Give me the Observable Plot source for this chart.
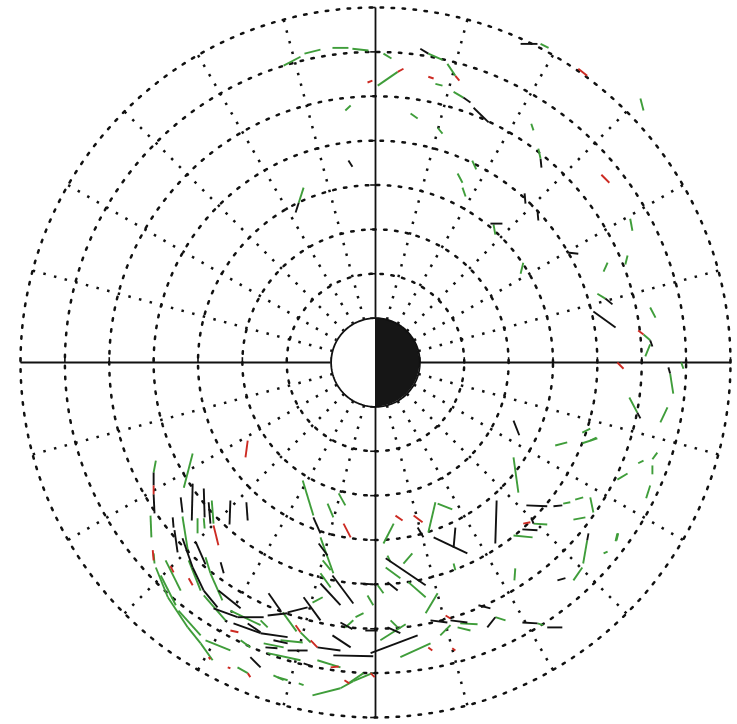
<!DOCTYPE html>
<html>
<head>
<meta charset="utf-8">
<script src="https://cdn.jsdelivr.net/npm/d3@7"></script>
<script src="https://cdn.jsdelivr.net/npm/@observablehq/plot@0.6"></script>
<style>
  body { margin: 0; background: #fff; }
  #chart svg { display: block; }
</style>
</head>
<body>
<div id="chart"></div>
<script>
// Equatorial plane view, distances in Earth radii (Re); Earth at the centre,
// sunlit half on the left, night half shaded on the right.

// Dotted L-shells and local-time spokes (degrees, every hour = 15 deg)
const ringRadii = [2, 3, 4, 5, 6, 7, 8];
const spokeAngles = [15, 30, 45, 60, 75, 105, 120, 135, 150, 165, 195, 210, 225, 240, 255, 285, 300, 315, 330, 345];
const axisTicks = [-8, -7, -6, -5, -4, -3, -2, -1, 1, 2, 3, 4, 5, 6, 7, 8];
const outerRadius = 8;

// Observed event directions along the orbits: [x1, y1, x2, y2] in Re
const blackSegments = [
  [1.01, 7.07, 1.19, 6.96], [1.98, 5.97, 2.14, 5.86], [2.21, 5.74, 2.55, 5.41], [3.27, 7.18, 3.65, 7.18],
  [3.72, 4.59, 3.74, 4.39], [-1.73, 3.60, -1.80, 3.38], [-0.61, 4.55, -0.52, 4.41], [3.36, 3.81, 3.38, 3.58],
  [3.65, 3.42, 3.67, 3.20], [2.59, 3.13, 2.86, 3.13], [4.32, 2.48, 4.57, 2.45], [5.18, 1.44, 5.34, 1.31],
  [4.91, 1.15, 5.41, 0.79], [6.19, 0.50, 6.24, 0.36], [6.60, -0.11, 6.64, -0.25], [5.90, -1.13, 5.97, -1.26],
  [3.11, -1.31, 3.24, -1.64], [3.40, -3.22, 3.87, -3.24], [4.01, -3.24, 4.21, -3.22], [3.51, -3.49, 3.56, -3.63],
  [3.31, -3.76, 3.65, -3.78], [2.73, -3.11, 2.70, -4.08], [1.80, -3.72, 1.76, -4.17], [1.31, -3.94, 2.07, -4.30],
  [0.95, -3.72, 1.08, -3.94], [0.23, -4.41, 1.13, -5.02], [0.27, -4.95, 0.50, -5.14], [4.80, -3.85, 4.77, -4.01],
  [4.10, -4.91, 4.28, -4.86], [2.32, -5.47, 2.59, -5.54], [2.70, -5.74, 2.52, -5.97], [3.31, -5.86, 3.65, -5.88],
  [3.87, -5.97, 4.21, -5.97], [1.24, -5.81, 1.62, -5.86], [1.69, -5.81, 2.07, -5.86], [0.27, -5.97, 0.56, -6.10],
  [-0.11, -6.55, 0.95, -6.15],
  [-5.00, -2.48, -5.00, -2.77], [-5.00, -2.97, -4.98, -3.40], [-4.12, -2.73, -4.14, -3.56], [-4.39, -3.04, -4.35, -3.38],
  [-3.87, -2.84, -3.85, -3.49], [-3.76, -3.15, -3.72, -3.63], [-3.27, -3.11, -3.29, -3.65], [-2.91, -3.15, -2.88, -3.56],
  [-4.57, -3.49, -4.55, -3.72], [-4.53, -3.78, -4.46, -4.28], [-4.35, -3.96, -4.12, -4.62], [-4.12, -4.62, -3.87, -5.14],
  [-3.87, -5.14, -3.56, -5.52], [-3.49, -4.50, -3.42, -4.75], [-3.65, -5.54, -3.11, -5.74], [-3.11, -5.74, -2.52, -5.74],
  [-2.43, -5.70, -1.98, -5.65], [-1.98, -5.63, -1.53, -5.52], [-3.20, -5.88, -2.59, -6.10], [-2.59, -6.10, -1.98, -6.19],
  [-0.95, -6.60, -0.05, -6.62], [-1.40, -3.49, -1.24, -3.85], [-1.28, -4.08, -1.08, -4.35], [-1.24, -4.98, -0.79, -5.47],
  [-0.97, -4.80, -0.50, -5.43], [-0.34, -4.98, -0.05, -5.00], [-1.62, -5.29, -1.24, -5.81], [-2.41, -5.20, -2.14, -5.59],
  [-2.88, -5.88, -2.59, -6.08], [-0.79, -5.86, -0.52, -6.01], [-0.23, -6.04, 0.05, -6.04], [-0.97, -6.15, -0.56, -6.42],
  [-1.31, -6.42, -0.79, -6.49], [-2.48, -6.42, -2.21, -6.44], [-1.98, -6.49, -1.53, -6.49], [-2.82, -6.64, -2.59, -6.87],
  [-1.62, -6.78, -1.42, -6.85], [-3.54, -5.14, -3.04, -5.54], [-4.05, -4.05, -3.83, -4.55], [-2.30, -6.26, -1.98, -6.33]
];

const greenSegments = [
  [-2.07, 6.69, -1.69, 6.89], [-1.60, 6.96, -1.24, 7.05], [-0.97, 7.09, -0.61, 7.09], [-0.52, 7.07, -0.16, 7.03],
  [0.18, 6.96, 0.36, 6.85], [0.05, 6.24, 0.50, 6.55], [1.19, 6.96, 1.51, 6.82], [1.35, 6.28, 1.51, 6.24],
  [1.62, 6.73, 1.80, 6.46], [1.76, 6.10, 1.98, 5.97], [0.79, 5.61, 0.95, 5.50], [1.40, 5.29, 1.51, 5.16],
  [3.72, 7.18, 3.90, 7.09], [5.97, 5.95, 6.04, 5.68], [3.51, 5.38, 3.56, 5.23], [3.67, 4.82, 3.72, 4.59],
  [2.18, 4.55, 2.27, 4.35], [1.85, 4.26, 1.96, 4.05], [1.96, 3.94, 2.03, 3.74], [-1.62, 3.94, -1.73, 3.60],
  [-0.68, 5.68, -0.56, 5.79], [2.66, 3.11, 2.70, 2.88], [3.33, 2.25, 3.27, 2.00], [5.74, 3.24, 5.79, 2.97],
  [5.23, 2.25, 5.14, 2.05], [5.68, 2.41, 5.63, 2.21], [5.00, 1.55, 5.18, 1.44], [6.19, 1.24, 6.31, 1.01],
  [6.04, 0.63, 6.19, 0.50], [6.19, 0.41, 6.08, 0.14], [6.64, -0.25, 6.71, -0.70], [6.89, 0.00, 6.94, -0.14],
  [5.72, -0.79, 5.90, -1.13], [6.58, -1.01, 6.42, -1.35], [4.84, -1.76, 4.98, -1.69], [6.35, -2.03, 6.24, -2.18],
  [6.04, -2.21, 5.92, -2.27], [5.68, -2.50, 5.45, -2.64], [6.24, -2.32, 6.24, -2.52], [6.19, -2.77, 6.10, -3.06],
  [4.84, -3.04, 4.91, -3.38], [5.47, -3.85, 5.43, -4.01], [4.66, -1.58, 4.84, -1.49], [4.05, -1.87, 4.32, -1.80],
  [4.66, -1.82, 5.00, -1.71], [3.11, -2.14, 3.22, -2.93], [4.23, -3.18, 4.39, -3.15], [4.50, -3.09, 4.68, -3.04],
  [4.46, -3.54, 4.73, -3.49], [3.56, -3.63, 3.87, -3.65], [3.11, -3.90, 3.54, -3.94], [1.40, -3.18, 1.73, -3.31],
  [1.35, -3.15, 1.19, -3.83], [0.41, -3.63, 0.18, -4.08], [0.83, -4.30, 0.63, -4.53], [0.23, -4.62, 0.56, -4.86],
  [0.74, -4.95, 1.13, -5.29], [0.05, -5.02, 0.18, -5.20], [4.77, -4.01, 4.68, -4.53], [4.66, -4.62, 4.46, -4.91],
  [5.45, -3.85, 5.41, -4.03], [5.14, -4.30, 5.23, -4.26], [3.15, -4.64, 3.13, -4.91], [1.76, -4.53, 1.80, -4.68],
  [1.40, -5.20, 1.13, -5.65], [2.70, -5.74, 2.93, -5.81], [3.65, -5.88, 3.78, -5.92], [1.91, -5.88, 2.30, -5.90],
  [1.46, -6.15, 1.69, -5.92], [1.85, -5.97, 2.14, -6.04], [0.34, -5.81, 0.50, -5.97], [0.56, -6.64, 1.24, -6.33],
  [0.11, -6.26, 0.68, -5.90],
  [-4.95, -2.21, -5.00, -2.48], [-5.07, -3.45, -5.05, -3.94], [-4.12, -2.05, -4.32, -2.82], [-4.35, -3.47, -4.23, -4.23],
  [-3.87, -3.51, -3.85, -3.74], [-3.69, -3.11, -3.65, -3.63], [-4.01, -3.51, -4.01, -3.85], [-5.00, -4.30, -4.98, -4.53],
  [-4.95, -4.62, -4.68, -5.29], [-4.68, -5.29, -4.23, -5.97], [-4.23, -5.97, -3.94, -6.33], [-3.94, -6.33, -3.67, -6.71],
  [-4.73, -4.46, -4.39, -5.14], [-3.83, -4.39, -3.72, -4.75], [-3.72, -4.75, -3.45, -5.36], [-3.11, -6.87, -2.88, -7.00],
  [-2.43, -6.55, -1.69, -6.71], [-2.21, -7.09, -1.98, -7.16], [-1.42, -7.50, -0.79, -7.34], [-0.79, -7.34, -0.50, -7.18],
  [-0.50, -7.18, -0.07, -7.00], [-1.64, -2.66, -1.40, -3.45], [-1.24, -3.94, -0.95, -4.75], [-0.83, -2.95, -0.68, -3.22],
  [-1.08, -3.18, -0.95, -3.49], [-1.19, -4.46, -1.01, -4.68], [-1.24, -4.75, -1.01, -5.07], [0.27, -4.35, 0.34, -4.50],
  [-0.18, -5.25, -0.05, -5.47], [-1.42, -5.41, -1.19, -5.29], [-2.59, -5.81, -2.43, -5.97], [-0.68, -5.97, -0.50, -5.81],
  [-0.45, -5.74, -0.27, -5.65], [-2.09, -5.63, -1.78, -6.06], [-1.69, -6.08, -1.46, -6.31], [-2.14, -6.26, -1.64, -6.31],
  [-3.04, -6.26, -2.82, -6.42], [-1.31, -6.71, -0.79, -6.87], [-0.61, -7.23, -0.27, -7.00], [-2.30, -7.05, -2.07, -7.16],
  [-1.73, -7.23, -1.62, -7.27], [-4.84, -4.80, -4.50, -5.47], [-4.44, -5.59, -3.94, -6.15], [-3.83, -6.26, -3.27, -6.49],
  [-3.27, -5.59, -2.59, -5.92], [-4.21, -4.46, -3.94, -5.14], [-3.87, -5.25, -3.38, -5.81], [-2.52, -6.33, -2.07, -6.42]
];

const redSegments = [
  [0.50, 6.55, 0.63, 6.62], [-0.18, 6.31, -0.07, 6.35], [1.19, 6.44, 1.31, 6.40], [1.80, 6.46, 1.89, 6.35],
  [4.57, 6.62, 4.77, 6.46], [5.09, 4.23, 5.27, 4.05], [5.92, 0.72, 6.04, 0.63], [5.45, 0.00, 5.59, -0.14],
  [3.33, -3.63, 3.49, -3.60], [0.45, -3.45, 0.61, -3.56], [0.86, -3.45, 1.06, -3.60], [1.58, -5.70, 1.69, -5.77],
  [1.19, -6.42, 1.28, -6.49], [1.73, -6.44, 1.80, -6.49], [-0.11, -7.00, -0.02, -7.09], [-2.88, -1.76, -2.93, -2.14],
  [-5.00, -2.77, -5.00, -2.97], [-3.65, -3.67, -3.54, -4.12], [-5.02, -4.23, -5.00, -4.46], [-4.62, -4.59, -4.55, -4.73],
  [-4.21, -4.86, -4.12, -5.02], [-3.27, -6.04, -3.09, -6.08], [-3.33, -6.87, -3.27, -6.89], [-2.88, -7.00, -2.82, -7.09],
  [-3.76, -6.64, -3.72, -6.69], [-1.80, -5.92, -1.69, -6.08], [-1.46, -6.26, -1.31, -6.42], [-1.01, -6.87, -0.83, -6.85],
  [-0.70, -7.16, -0.59, -7.23], [-0.72, -3.63, -0.56, -3.94]
];

const ink = "#111";
const green = "#3f9d3a";
const red = "#cc2a22";

// Grid geometry
const rad = Math.PI / 180;
const ringPoints = ringRadii.flatMap(r =>
  d3.range(0, 361, 1.5).map(a => ({r, x: r * Math.cos(a * rad), y: r * Math.sin(a * rad)}))
);
const spokes = spokeAngles.map(a => ({a, c: Math.cos(a * rad), s: Math.sin(a * rad)}));
const earthYs = d3.range(-1, 1.00001, 0.01).map(v => Math.max(-1, Math.min(1, v)));
const earthOutline = d3.range(0, 361, 2).map(a => ({x: Math.cos(a * rad), y: Math.sin(a * rad)}));

const seg = (data, stroke) => Plot.link(data, {
  x1: d => d[0], y1: d => d[1], x2: d => d[2], y2: d => d[3],
  stroke, strokeWidth: 1.9, strokeLinecap: "butt"
});

const dotted = {stroke: ink, strokeWidth: 2.5, strokeDasharray: "2.5,8.5"};

const chart = Plot.plot({
  width: 737,
  height: 724,
  marginLeft: 20,
  marginRight: 7,
  marginTop: 7,
  marginBottom: 7,
  x: {domain: [-outerRadius, outerRadius], axis: null},
  y: {domain: [-outerRadius, outerRadius], axis: null},
  marks: [
    // dotted rings
    Plot.line(ringPoints, {x: "x", y: "y", z: "r", ...dotted}),
    // dotted spokes from the Earth outward
    Plot.link(spokes, {
      x1: d => d.c, y1: d => d.s, x2: d => outerRadius * d.c, y2: d => outerRadius * d.s,
      ...dotted
    }),
    // solid axes with unit ticks
    Plot.link([0], {x1: d => -outerRadius, x2: d => outerRadius, y1: d => 0, y2: d => 0, stroke: ink, strokeWidth: 1.8}),
    Plot.link([0], {x1: d => 0, x2: d => 0, y1: d => -outerRadius, y2: d => outerRadius, stroke: ink, strokeWidth: 1.8}),
    Plot.link(axisTicks, {x1: d => d, x2: d => d, y1: d => 0, y2: d => 0.12, stroke: ink, strokeWidth: 1.6}),
    Plot.link(axisTicks, {x1: d => 0, x2: d => -0.12, y1: d => d, y2: d => d, stroke: ink, strokeWidth: 1.6}),
    // Earth: day side white, night side black
    Plot.areaX(earthYs, {y: d => d, x1: d => -Math.sqrt(1 - d * d), x2: d => Math.sqrt(1 - d * d), fill: "white"}),
    Plot.areaX(earthYs, {y: d => d, x1: d => 0, x2: d => Math.sqrt(1 - d * d), fill: "#161616"}),
    Plot.line(earthOutline, {x: "x", y: "y", stroke: ink, strokeWidth: 1.8}),
    // observations
    seg(greenSegments, green),
    seg(blackSegments, ink),
    seg(redSegments, red)
  ]
});

document.getElementById("chart").appendChild(chart);
</script>
</body>
</html>
